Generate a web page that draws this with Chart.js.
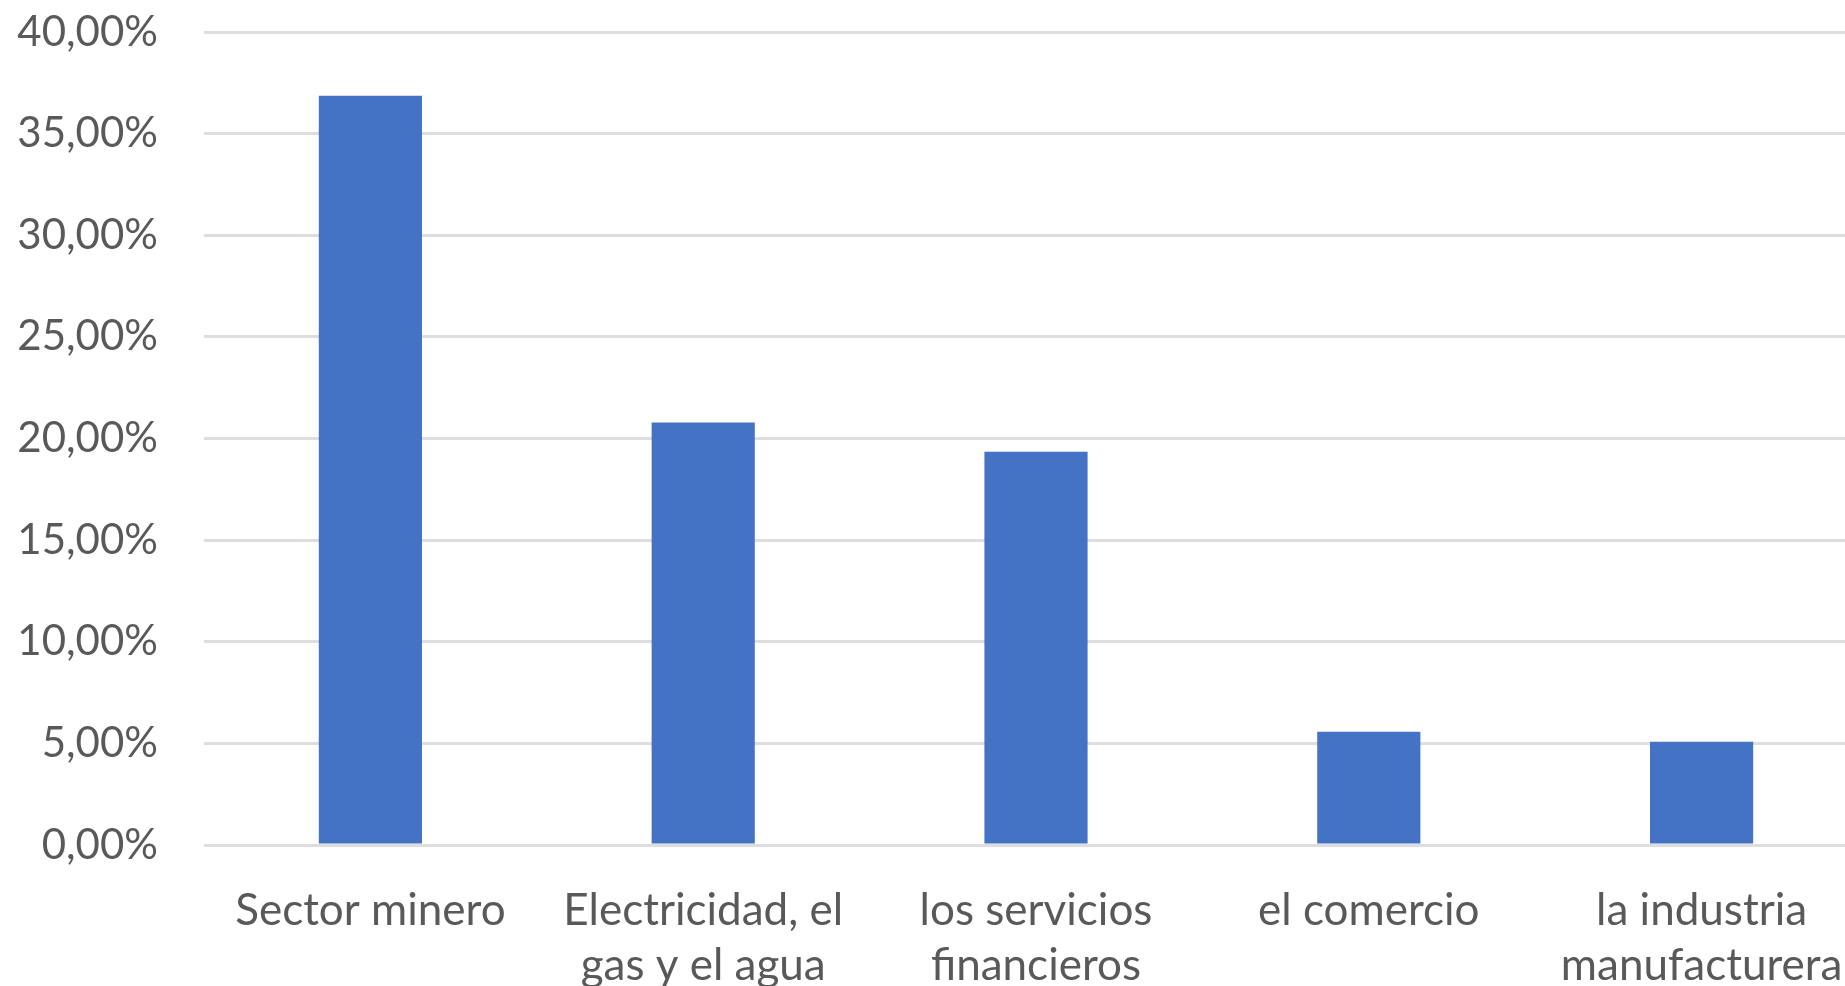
<!DOCTYPE html>
<html>
<head>
<meta charset="utf-8">
<script src="https://cdn.jsdelivr.net/npm/chart.js@4"></script>
<style>
  html, body { margin: 0; padding: 0; background: #ffffff; overflow: hidden; }
  #wrap { position: relative; width: 1868px; height: 986px; }
</style>
</head>
<body>
<div id="wrap"><canvas id="c"></canvas></div>
<script>
const categories = [
  "Sector minero",
  ["Electricidad, el", "gas y el agua"],
  ["los servicios", "financieros"],
  "el comercio",
  ["la industria", "manufacturera"]
];
const values = [36.86, 20.79, 19.35, 5.57, 5.08];
const yMin = 0, yMax = 40, yStep = 5;

const FONT = "Lato, 'Open Sans', sans-serif";
const TEXT = "#595959";

new Chart(document.getElementById('c'), {
  type: 'bar',
  data: {
    labels: categories,
    datasets: [{
      data: values,
      backgroundColor: '#4472C4',
      borderWidth: 0,
      categoryPercentage: 1.0,
      barPercentage: 0.31
    }]
  },
  options: {
    responsive: true,
    maintainAspectRatio: false,
    animation: false,
    devicePixelRatio: 1,
    layout: { padding: { top: 32, right: 0, bottom: 0, left: 0 } },
    plugins: { legend: { display: false }, tooltip: { enabled: false } },
    scales: {
      x: {
        grid: { display: false, drawTicks: false },
        border: { display: false },
        ticks: {
          color: TEXT,
          font: { family: FONT, size: 44, lineHeight: 1.25 },
          padding: 38,
          maxRotation: 0,
          autoSkip: false
        },
        afterFit: s => { s.height = 141; s.paddingLeft = 0; s.paddingRight = 0; }
      },
      y: {
        min: yMin, max: yMax,
        grid: { color: '#DEDEDE', lineWidth: 3, drawTicks: false },
        border: { display: false },
        ticks: {
          stepSize: yStep,
          color: TEXT,
          font: { family: FONT, size: 42 },
          padding: 46,
          callback: v => v.toFixed(2).replace('.', ',') + '%'
        },
        afterFit: s => { s.width = 204; s.paddingTop = 0; s.paddingBottom = 0; }
      }
    }
  }
});
</script>
</body>
</html>
